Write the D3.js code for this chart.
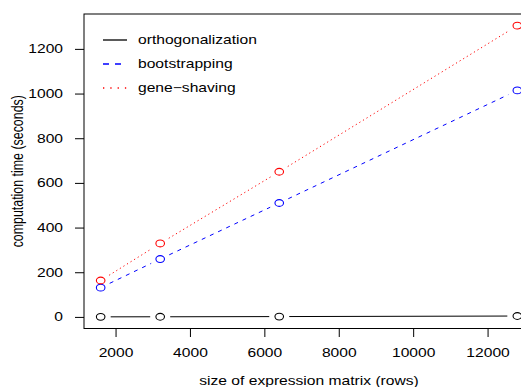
<!DOCTYPE html>
<html>
<head>
<meta charset="utf-8">
<script src="https://cdn.jsdelivr.net/npm/d3@7"></script>
<style>
  html, body { margin: 0; padding: 0; background: #fff; }
  svg { display: block; }
  text { font-family: "Liberation Sans", Arial, Helvetica, sans-serif; fill: #000; }
</style>
</head>
<body>
<svg id="chart"></svg>
<script>
// Data
var sizes = [1600, 3200, 6400, 12800];
var orthogonalization = [0.3, 0.6, 1.5, 4];
var bootstrapping = [131, 259, 510, 1014];
var geneShaving = [163, 329, 650, 1304];

var seriesNames = ["orthogonalization", "bootstrapping", "gene\u2212shaving"];
var xTicks = [2000, 4000, 6000, 8000, 10000, 12000];
var yTicks = [0, 200, 400, 600, 800, 1000, 1200];

// Size & layout (the original picture is stretched sideways)
var width = 521,
    height = 387,
    sx = 1.26,
    fontSize = 12.4;

var box = { left: 84, top: 14, right: 534, bottom: 328.5 };

var series = [
  { name: seriesNames[0], values: orthogonalization, color: "#000000", dash: null },
  { name: seriesNames[1], values: bootstrapping, color: "#0000ff", dash: "4,5" },
  { name: seriesNames[2], values: geneShaving, color: "#ff0000", dash: "1.2,3" }
];

// R style limits: data range extended by 4% on each side
function rlim(vals) {
  var e = d3.extent(vals), r = e[1] - e[0];
  return [e[0] - 0.04 * r, e[1] + 0.04 * r];
}
var allY = [].concat(orthogonalization, bootstrapping, geneShaving);

var x = d3.scaleLinear().domain(rlim(sizes)).range([box.left, box.right]);
var y = d3.scaleLinear().domain(rlim(allY)).range([box.bottom, box.top]);

var svg = d3.select("#chart")
  .attr("width", width)
  .attr("height", height);

// stretch text the same way as the picture
function stretchText(sel) {
  sel.each(function() {
    var t = d3.select(this);
    var tx = parseFloat(t.attr("x")) || 0;
    t.attr("x", tx / sx).attr("transform", "scale(" + sx + ",1)");
  });
}

// Axes
var yAxis = svg.append("g")
  .attr("transform", "translate(" + box.left + ",0)")
  .call(d3.axisLeft(y).tickValues(yTicks).tickFormat(d3.format("d")).tickSize(9).tickPadding(12));

var xAxis = svg.append("g")
  .attr("transform", "translate(0," + box.bottom + ")")
  .call(d3.axisBottom(x).tickValues(xTicks).tickFormat(d3.format("d")).tickSize(8.5).tickPadding(11));

[yAxis, xAxis].forEach(function(a) {
  a.select(".domain").remove();
  a.selectAll("line").attr("stroke", "#000");
  a.selectAll("text")
    .style("font-size", fontSize + "px")
    .style("font-family", "'Liberation Sans', Arial, sans-serif")
    .call(stretchText);
});

// Plot box
svg.append("rect")
  .attr("x", box.left)
  .attr("y", box.top)
  .attr("width", box.right - box.left)
  .attr("height", box.bottom - box.top)
  .attr("fill", "none")
  .attr("stroke", "#000")
  .attr("stroke-width", 1);

// Lines with gaps round the points (type = "b")
var gap = 10;
function segments(vals) {
  var out = [];
  for (var i = 0; i < vals.length - 1; i++) {
    var x0 = x(sizes[i]), y0 = y(vals[i]),
        x1 = x(sizes[i + 1]), y1 = y(vals[i + 1]);
    var dx = x1 - x0, dy = y1 - y0, d = Math.sqrt(dx * dx + dy * dy);
    if (d <= 2 * gap) continue;
    var ux = dx / d, uy = dy / d;
    out.push([[x0 + ux * gap, y0 + uy * gap], [x1 - ux * gap, y1 - uy * gap]]);
  }
  return out;
}

var g = svg.selectAll(".series")
  .data(series)
  .enter().append("g")
  .attr("class", "series");

g.selectAll("path")
  .data(function(d) {
    return segments(d.values).map(function(s) { return { s: s, d: d }; });
  })
  .enter().append("path")
  .attr("d", function(o) { return d3.line()(o.s); })
  .attr("fill", "none")
  .attr("stroke", function(o) { return o.d.color; })
  .attr("stroke-width", 1)
  .attr("stroke-dasharray", function(o) { return o.d.dash; });

g.selectAll("ellipse")
  .data(function(d) {
    return d.values.map(function(v, i) { return { x: sizes[i], y: v, c: d.color }; });
  })
  .enter().append("ellipse")
  .attr("cx", function(p) { return x(p.x); })
  .attr("cy", function(p) { return y(p.y); })
  .attr("rx", 3.4 * sx)
  .attr("ry", 3.4)
  .attr("fill", "none")
  .attr("stroke", function(p) { return p.c; })
  .attr("stroke-width", 1.1);

// Legend
var legend = svg.selectAll(".legend")
  .data(series)
  .enter().append("g")
  .attr("class", "legend")
  .attr("transform", function(d, i) { return "translate(0," + (40 + i * 24) + ")"; });

legend.append("line")
  .attr("x1", 103)
  .attr("x2", 127)
  .attr("y1", 0)
  .attr("y2", 0)
  .attr("stroke", function(d) { return d.color; })
  .attr("stroke-width", 1.3)
  .attr("stroke-dasharray", function(d, i) { return i == 1 ? "6,6" : (i == 2 ? "1.3,6" : null); });

legend.append("text")
  .attr("transform", "translate(138,0) scale(" + sx + ",1)")
  .attr("dy", "0.35em")
  .style("font-size", fontSize + "px")
  .text(function(d) { return d.name; });

// Axis titles
svg.append("text")
  .attr("transform", "translate(" + ((box.left + box.right) / 2) + ",385) scale(" + sx + ",1)")
  .style("text-anchor", "middle")
  .style("font-size", fontSize + "px")
  .text("size of expression matrix (rows)");

svg.append("text")
  .attr("transform", "translate(23," + ((box.top + box.bottom) / 2) + ") scale(" + sx + ",1) rotate(-90)")
  .style("text-anchor", "middle")
  .style("font-size", fontSize + "px")
  .text("computation time (seconds)");
</script>
</body>
</html>
